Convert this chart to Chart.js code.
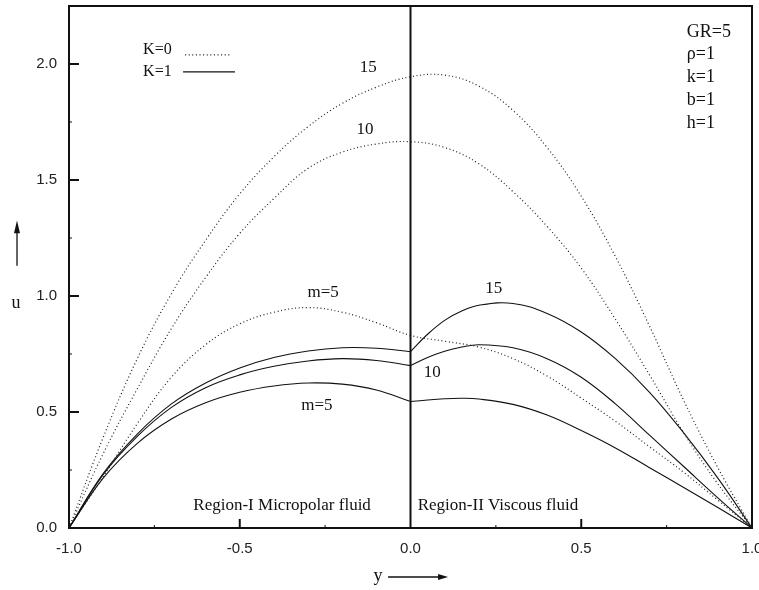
<!DOCTYPE html>
<html>
<head>
<meta charset="utf-8">
<script src="https://cdn.jsdelivr.net/npm/chart.js@4.4.1/dist/chart.umd.min.js"></script>
<style>
html, body { margin: 0; padding: 0; background: #fff; }
</style>
</head>
<body>
<canvas id="myChart" width="759" height="590"></canvas>
<script>
// y positions across both regions (-1 .. 1)
const yAll = [-1.0, -0.9, -0.8, -0.7, -0.6, -0.5, -0.4, -0.3, -0.2, -0.1, 0.0,
              0.1, 0.2, 0.3, 0.4, 0.5, 0.6, 0.7, 0.8, 0.9, 1.0]
// K=0 (dotted)
const uK0m15 = [0, 0.39, 0.73, 1.01, 1.24, 1.44, 1.60, 1.73, 1.83, 1.90, 1.945,
                1.952, 1.905, 1.80, 1.64, 1.43, 1.17, 0.87, 0.55, 0.26, 0]
const uK0m10 = [0, 0.32, 0.60, 0.86, 1.08, 1.27, 1.42, 1.55, 1.62, 1.655, 1.665,
                1.64, 1.57, 1.45, 1.30, 1.12, 0.90, 0.66, 0.41, 0.19, 0]
const uK0m5 = [0, 0.22, 0.45, 0.65, 0.79, 0.88, 0.93, 0.95, 0.93, 0.885, 0.83,
               0.805, 0.78, 0.73, 0.655, 0.56, 0.46, 0.35, 0.24, 0.12, 0]

// K=1 (solid), region I and region II
const yLeft = [-1.0, -0.9, -0.8, -0.7, -0.6, -0.5, -0.4, -0.3, -0.2, -0.1, 0.0]
const yRight = [0.0, 0.05, 0.1, 0.15, 0.2, 0.3, 0.4, 0.5, 0.6, 0.7, 0.8, 0.9, 1.0]
const uK1m15L = [0, 0.235, 0.405, 0.535, 0.625, 0.69, 0.735, 0.763, 0.777, 0.775, 0.76]
const uK1m10L = [0, 0.23, 0.395, 0.52, 0.605, 0.66, 0.697, 0.72, 0.73, 0.722, 0.70]
const uK1m5L = [0, 0.215, 0.365, 0.47, 0.54, 0.585, 0.612, 0.625, 0.62, 0.595, 0.545]
const uK1m15R = [0.76, 0.835, 0.895, 0.935, 0.96, 0.968, 0.925, 0.845, 0.73, 0.585, 0.41, 0.215, 0]
const uK1m10R = [0.70, 0.735, 0.762, 0.780, 0.79, 0.777, 0.73, 0.65, 0.535, 0.40, 0.265, 0.13, 0]
const uK1m5R = [0.545, 0.552, 0.557, 0.559, 0.556, 0.533, 0.487, 0.42, 0.345, 0.26, 0.175, 0.088, 0]

const xMajor = [-1.0, -0.5, 0.0, 0.5, 1.0]
const uMajor = [0.0, 0.5, 1.0, 1.5, 2.0]

// text notes placed in data coordinates
const curveNotes = [
    { text: '15', x: -0.124, u: 1.983 },
    { text: '10', x: -0.133, u: 1.716 },
    { text: 'm=5', x: -0.256, u: 1.013 },
    { text: '15', x: 0.244, u: 1.034 },
    { text: '10', x: 0.064, u: 0.668 },
    { text: 'm=5', x: -0.274, u: 0.530 }
]
const regionNotes = [
    { text: 'Region-I Micropolar fluid', x: -0.376, u: 0.099 },
    { text: 'Region-II Viscous fluid', x: 0.256, u: 0.099 }
]
const paramNotes = ['GR=5', 'ρ=1', 'k=1', 'b=1', 'h=1']

const pts = (xs, us) => xs.map((x, i) => ({ x: x, y: us[i] }))

const serif = '"Liberation Serif", "Times New Roman", serif'
const sans = '"Liberation Sans", Arial, sans-serif'

const dotted = (data) => ({
    data: data, borderColor: '#222', borderWidth: 1.2, borderDash: [1, 2.6],
    pointRadius: 0, fill: false, tension: 0.4
})
const solid = (data) => ({
    data: data, borderColor: '#111', borderWidth: 1.1,
    pointRadius: 0, fill: false, tension: 0.4
})

const extras = {
    id: 'extras',
    afterDraw(chart) {
        const ctx = chart.ctx
        const { left, right, top, bottom } = chart.chartArea
        const xs = chart.scales.x, ys = chart.scales.y
        ctx.save()
        ctx.strokeStyle = '#111'
        ctx.fillStyle = '#111'

        // frame
        ctx.lineWidth = 2
        ctx.strokeRect(left, top, right - left, bottom - top)

        // interface line at y=0
        const x0 = xs.getPixelForValue(0)
        ctx.beginPath()
        ctx.moveTo(x0, top)
        ctx.lineTo(x0, bottom)
        ctx.stroke()

        // inward ticks
        for (let v = 0.25; v < 2.25; v += 0.25) {
            const p = ys.getPixelForValue(v)
            const major = Math.abs(v * 2 - Math.round(v * 2)) < 1e-6
            ctx.lineWidth = major ? 2 : 1
            ctx.beginPath()
            ctx.moveTo(left, p)
            ctx.lineTo(left + (major ? 10 : 3), p)
            ctx.stroke()
        }
        for (let v = -0.75; v < 1; v += 0.25) {
            if (Math.abs(v) < 1e-6) continue
            const p = xs.getPixelForValue(v)
            const major = Math.abs(v * 2 - Math.round(v * 2)) < 1e-6
            ctx.lineWidth = major ? 2 : 1
            ctx.beginPath()
            ctx.moveTo(p, bottom)
            ctx.lineTo(p, bottom - (major ? 9 : 3))
            ctx.stroke()
        }

        // curve / region labels
        ctx.textAlign = 'center'
        ctx.textBaseline = 'middle'
        ctx.font = '17px ' + serif
        curveNotes.forEach(n => {
            ctx.fillText(n.text, xs.getPixelForValue(n.x), ys.getPixelForValue(n.u))
        })
        regionNotes.forEach(n => {
            ctx.fillText(n.text, xs.getPixelForValue(n.x), ys.getPixelForValue(n.u))
        })

        // legend
        ctx.font = '16px ' + serif
        ctx.textAlign = 'left'
        const lx = xs.getPixelForValue(-0.783)
        ctx.fillText('K=0', lx, ys.getPixelForValue(2.06))
        ctx.fillText('K=1', lx, ys.getPixelForValue(1.966))
        ctx.lineWidth = 1.2
        ctx.setLineDash([1, 2.6])
        ctx.beginPath()
        ctx.moveTo(xs.getPixelForValue(-0.66), ys.getPixelForValue(2.039))
        ctx.lineTo(xs.getPixelForValue(-0.523), ys.getPixelForValue(2.039))
        ctx.stroke()
        ctx.setLineDash([])
        ctx.lineWidth = 1.3
        ctx.beginPath()
        ctx.moveTo(xs.getPixelForValue(-0.666), ys.getPixelForValue(1.966))
        ctx.lineTo(xs.getPixelForValue(-0.514), ys.getPixelForValue(1.966))
        ctx.stroke()

        // parameters
        ctx.font = '18px ' + serif
        const px = xs.getPixelForValue(0.809)
        paramNotes.forEach((t, i) => {
            ctx.fillText(t, px, top + 26 + i * 22.7)
        })

        // axis titles with arrows
        ctx.font = '18px ' + serif
        ctx.textAlign = 'center'
        const ux = left - 53
        ctx.fillText('u', ux, ys.getPixelForValue(0.97))
        ctx.lineWidth = 1.3
        ctx.beginPath()
        ctx.moveTo(ux + 1, ys.getPixelForValue(1.13))
        ctx.lineTo(ux + 1, ys.getPixelForValue(1.30))
        ctx.stroke()
        ctx.beginPath()
        ctx.moveTo(ux + 1, ys.getPixelForValue(1.325))
        ctx.lineTo(ux - 2, ys.getPixelForValue(1.27))
        ctx.lineTo(ux + 4, ys.getPixelForValue(1.27))
        ctx.closePath()
        ctx.fill()

        const yy = bottom + 48
        const tx = xs.getPixelForValue(-0.095)
        ctx.fillText('y', tx, yy)
        ctx.beginPath()
        ctx.moveTo(tx + 10, yy + 1)
        ctx.lineTo(tx + 62, yy + 1)
        ctx.stroke()
        ctx.beginPath()
        ctx.moveTo(tx + 70, yy + 1)
        ctx.lineTo(tx + 60, yy - 2)
        ctx.lineTo(tx + 60, yy + 4)
        ctx.closePath()
        ctx.fill()
        ctx.restore()
    }
}

const config = {
    type: 'line',
    data: {
        datasets: [
            dotted(pts(yAll, uK0m15)),
            dotted(pts(yAll, uK0m10)),
            dotted(pts(yAll, uK0m5)),
            solid(pts(yLeft, uK1m15L)),
            solid(pts(yLeft, uK1m10L)),
            solid(pts(yLeft, uK1m5L)),
            solid(pts(yRight, uK1m15R)),
            solid(pts(yRight, uK1m10R)),
            solid(pts(yRight, uK1m5R))
        ]
    },
    options: {
        responsive: false,
        animation: false,
        devicePixelRatio: 1,
        layout: { padding: { top: 6, right: 7, left: 0, bottom: 0 } },
        plugins: {
            legend: { display: false },
            tooltip: { enabled: false }
        },
        scales: {
            x: {
                type: 'linear',
                min: -1, max: 1,
                grid: { display: false, drawTicks: false },
                border: { display: false },
                afterFit: (s) => { s.height = 62; s.paddingLeft = 0; s.paddingRight = 0 },
                afterBuildTicks: (s) => { s.ticks = xMajor.map(v => ({ value: v })) },
                ticks: {
                    padding: 12,
                    color: '#222',
                    font: { family: sans, size: 15 },
                    callback: (v) => Number(v).toFixed(1)
                }
            },
            y: {
                min: 0, max: 2.25,
                grid: { display: false, drawTicks: false },
                border: { display: false },
                afterFit: (s) => { s.width = 69; s.paddingTop = 0; s.paddingBottom = 0 },
                afterBuildTicks: (s) => { s.ticks = uMajor.map(v => ({ value: v })) },
                ticks: {
                    padding: 12,
                    color: '#222',
                    font: { family: sans, size: 15 },
                    callback: (v) => Number(v).toFixed(1)
                }
            }
        }
    },
    plugins: [extras]
}

const ctx = document.getElementById('myChart').getContext('2d')
const chart = new Chart(ctx, config)
</script>
</body>
</html>
